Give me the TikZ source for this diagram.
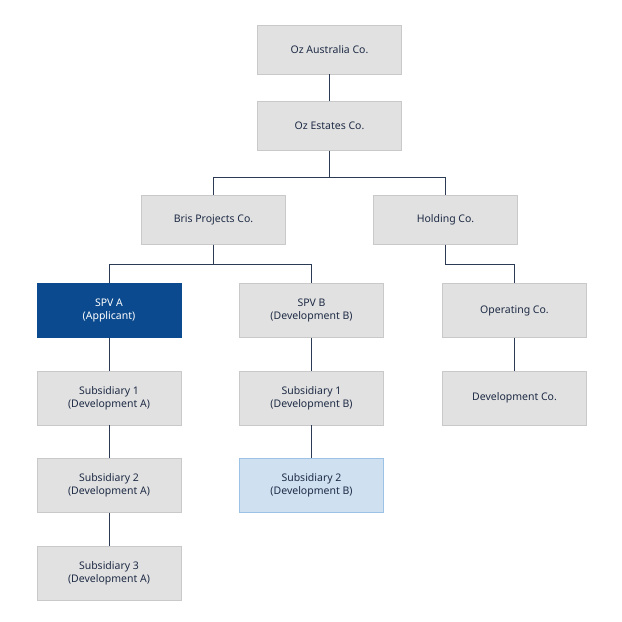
\documentclass[tikz,border=0pt]{standalone}
\usepackage{fontspec}
\setmainfont{Noto Sans}
\definecolor{bx}{HTML}{E1E1E1}
\definecolor{bxd}{HTML}{C9C9C9}
\definecolor{txt}{HTML}{1E2B45}
\definecolor{navy}{HTML}{0B4A8E}
\definecolor{lb}{HTML}{CFE0F1}
\definecolor{lbd}{HTML}{9CC2E5}
\definecolor{ln}{HTML}{2B3A55}
\begin{document}
\begin{tikzpicture}[x=1pt,y=-1pt,
  box/.style={draw=bxd,fill=bx,minimum width=144pt,minimum height=54pt,text=txt,font=\fontsize{10.5}{13}\selectfont,align=center,inner sep=0pt},
  sel/.style={box,fill=navy,draw=navy,text=white},
  lt/.style={box,fill=lb,draw=lbd},
  con/.style={draw=ln,line width=0.8pt}]
\useasboundingbox (0,0) rectangle (622,622);
\fill[white] (0,0) rectangle (622,622);
\node[box,minimum height=49pt] (oa) at (329.5,49.5) {Oz Australia Co.};
\node[box,minimum height=49pt] (oe) at (329.5,126) {Oz Estates Co.};
\node[box,minimum height=49pt] (bp) at (213.5,220) {Bris Projects Co.};
\node[box,minimum height=49pt] (ho) at (445.5,220) {Holding Co.};
\node[sel] (sa) at (109,310.5) {SPV A\\(Applicant)};
\node[box] (sb) at (311.5,310.5) {SPV B\\(Development B)};
\node[box] (op) at (514.5,310.5) {Operating Co.};
\node[box] (a1) at (109,398) {Subsidiary 1\\(Development A)};
\node[box] (b1) at (311.5,398) {Subsidiary 1\\(Development B)};
\node[box] (dc) at (514.5,398) {Development Co.};
\node[box] (a2) at (109,485.5) {Subsidiary 2\\(Development A)};
\node[lt] (b2) at (311.5,485.5) {Subsidiary 2\\(Development B)};
\node[box] (a3) at (109,573) {Subsidiary 3\\(Development A)};
\draw[con] (oa) -- (oe);
\draw[con] (oe.south) -- ++(0,27) -| (bp.north);
\draw[con] (oe.south) -- ++(0,27) -| (ho.north);
\draw[con] (bp.south) -- ++(0,20) -| (sa.north);
\draw[con] (bp.south) -- ++(0,20) -| (sb.north);
\draw[con] (ho.south) -- ++(0,20) -| (op.north);
\draw[con] (sa) -- (a1); \draw[con] (a1) -- (a2); \draw[con] (a2) -- (a3);
\draw[con] (sb) -- (b1); \draw[con] (b1) -- (b2);
\draw[con] (op) -- (dc);
\end{tikzpicture}
\end{document}
